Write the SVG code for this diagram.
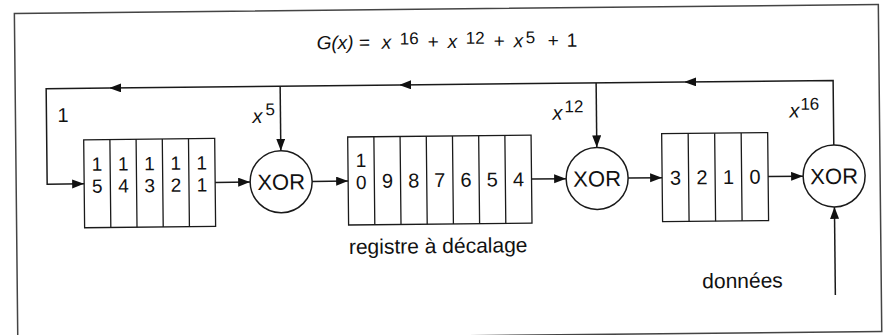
<svg xmlns="http://www.w3.org/2000/svg" width="888" height="335" viewBox="0 0 888 335">
<style>
.ln{fill:none;stroke:#1a1a1a;stroke-width:1.5}
.cell{fill:none;stroke:#1a1a1a;stroke-width:1.3}
.t{font-family:"Liberation Sans",Arial,sans-serif;fill:#111}
.d{font-size:20px;text-anchor:middle}
.d2{font-size:19px;text-anchor:middle}
.x{font-size:22px;text-anchor:middle}
.lb{font-size:21px}
.it{font-style:italic}
</style>
<defs>
<marker id="ah" markerUnits="userSpaceOnUse" markerWidth="12" markerHeight="10" refX="12" refY="4.5" orient="auto">
<path d="M0,0 L12,4.5 L0,9 z" fill="#111"/>
</marker>
</defs>
<rect width="888" height="335" fill="#fff"/>
<g transform="rotate(-0.6 444 167)">
<rect x="16" y="9" width="864" height="327" fill="none" stroke="#444" stroke-width="1.5"/>
<g id="title" class="t" font-size="19">
<text x="318" y="48"><tspan class="it">G(x)</tspan> =</text>
<text x="383" y="48" class="it">x</text>
<text x="401" y="44" font-size="17">16</text>
<text x="429" y="48">+</text>
<text x="449" y="48" class="it">x</text>
<text x="467" y="44" font-size="17">12</text>
<text x="495" y="48">+</text>
<text x="515" y="48" class="it">x</text>
<text x="527" y="44" font-size="17">5</text>
<text x="549" y="48">+</text>
<text x="568" y="48">1</text>
</g>
<g id="connectors">
<path class="ln" d="M834,149 V84.5 H685" marker-end="url(#ah)"/>
<path class="ln" d="M685,84.5 H400" marker-end="url(#ah)"/>
<path class="ln" d="M400,84.5 H110" marker-end="url(#ah)"/>
<path class="ln" d="M110,84.5 H47 V180 H84" marker-end="url(#ah)"/>
<path class="ln" d="M281,84.5 V149" marker-end="url(#ah)"/>
<path class="ln" d="M597,84.5 V149" marker-end="url(#ah)"/>
<path class="ln" d="M215,180 H250" marker-end="url(#ah)"/>
<path class="ln" d="M312,180 H348" marker-end="url(#ah)"/>
<path class="ln" d="M531.4,180 H566" marker-end="url(#ah)"/>
<path class="ln" d="M628,180 H662" marker-end="url(#ah)"/>
<path class="ln" d="M768,180 H803" marker-end="url(#ah)"/>
<path class="ln" d="M834,299 V211" marker-end="url(#ah)"/>
</g>
<g id="labels" class="t">
<text x="58" y="118" font-size="20">1</text>
<text x="253" y="121" font-size="20" class="it">x</text><text x="266" y="113.5" font-size="17">5</text>
<text x="553" y="121" font-size="20" class="it">x</text><text x="565" y="113.5" font-size="17">12</text>
<text x="790" y="121" font-size="20" class="it">x</text><text x="801" y="113.5" font-size="17">16</text>
</g>
<g id="reg1">
<rect class="cell" x="84" y="136" width="131" height="88"/>
<path class="cell" d="M110.2,136V224M136.4,136V224M162.6,136V224M188.8,136V224"/>
<g class="t d2">
<text x="97.1" y="167">1</text><text x="97.1" y="189">5</text>
<text x="123.3" y="167">1</text><text x="123.3" y="189">4</text>
<text x="149.5" y="167">1</text><text x="149.5" y="189">3</text>
<text x="175.7" y="167">1</text><text x="175.7" y="189">2</text>
<text x="201.9" y="167">1</text><text x="201.9" y="189">1</text>
</g>
</g>
<g id="xor1">
<circle class="ln" cx="281" cy="180" r="31"/>
<text class="t x" x="281" y="188">XOR</text>
</g>
<g id="reg2">
<rect class="cell" x="348" y="136" width="183.4" height="88"/>
<path class="cell" d="M374.2,136V224M400.4,136V224M426.6,136V224M452.8,136V224M479,136V224M505.2,136V224"/>
<g class="t">
<text class="d2" x="361.1" y="166">1</text><text class="d2" x="361.1" y="188">0</text>
<text class="d" x="387.3" y="187">9</text>
<text class="d" x="413.5" y="187">8</text>
<text class="d" x="439.7" y="187">7</text>
<text class="d" x="465.9" y="187">6</text>
<text class="d" x="492.1" y="187">5</text>
<text class="d" x="518.3" y="187">4</text>
</g>
<text class="t lb" x="348" y="253">registre à décalage</text>
</g>
<g id="xor2">
<circle class="ln" cx="597" cy="180" r="31"/>
<text class="t x" x="597" y="188">XOR</text>
</g>
<g id="reg3">
<rect class="cell" x="662" y="136" width="106" height="88"/>
<path class="cell" d="M688.5,136V224M715,136V224M741.5,136V224"/>
<g class="t d">
<text x="675.25" y="187">3</text>
<text x="701.75" y="187">2</text>
<text x="728.25" y="187">1</text>
<text x="754.75" y="187">0</text>
</g>
</g>
<g id="xor3">
<circle class="ln" cx="834" cy="180" r="31"/>
<text class="t x" x="834" y="188">XOR</text>
</g>
<g id="data">
<text class="t lb" x="701" y="291">données</text>
</g>
</g>
</svg>
